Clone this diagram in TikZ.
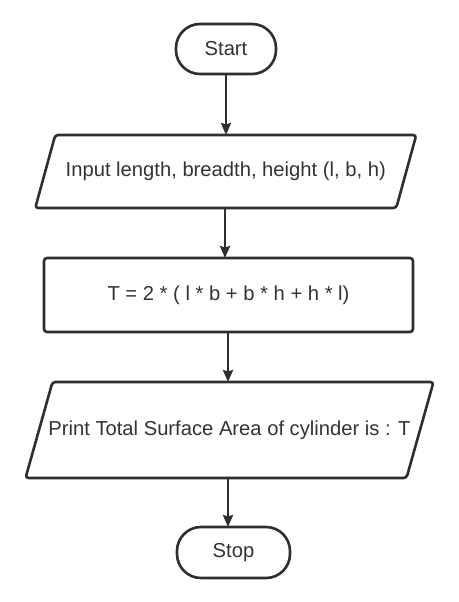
\documentclass[tikz,border=0pt]{standalone}
\usepackage{fontspec}
\setmainfont{Liberation Sans}
\usetikzlibrary{arrows.meta}
\definecolor{ink}{HTML}{2E2E2E}
\definecolor{txt}{HTML}{333333}
\begin{document}
\begin{tikzpicture}[x=1pt,y=-1pt,
  lbl/.style={text=txt,font=\fontsize{20.2}{24}\selectfont,inner sep=0pt,outer sep=0pt},
  term/.style={lbl,draw=ink,line width=2.6pt,rounded corners=24pt,minimum height=50pt},
  procbox/.style={lbl,draw=ink,line width=2.6pt,rounded corners=3pt},
  iobox/.style={lbl,rectangle},
  shp/.style={draw=ink,line width=2.6pt,rounded corners=3pt},
  arr/.style={draw=ink,line width=2.6pt,-{Stealth[length=12pt,width=10pt,inset=1.5pt]}}]
\useasboundingbox (0,0) rectangle (458,602);
\fill[white] (0,0) rectangle (458,602);
% terminals and boxes
\node[term,minimum width=100pt] (start) at (226,49) {Start};
\node[iobox,minimum width=361pt,minimum height=73pt] (inp) at (225.75,171.5) {Input length, breadth, height (l, b, h)};
\draw[shp] ([xshift=10pt]inp.north west) -- ([xshift=10pt]inp.north east) -- ([xshift=-10pt]inp.south east) -- ([xshift=-10pt]inp.south west) -- cycle;
\node[procbox,minimum width=369pt,minimum height=74pt] (calc) at (228.5,295) {T = 2 * ( l * b + b * h + h * l)};
\node[iobox,minimum width=381pt,minimum height=96pt] (out) at (229.5,430) {Print Total Surface Area of cylinder is : T};
\draw[shp] ([xshift=13.5pt]out.north west) -- ([xshift=13.5pt]out.north east) -- ([xshift=-13.5pt]out.south east) -- ([xshift=-13.5pt]out.south west) -- cycle;
\node[term,minimum width=113pt,minimum height=51pt] (stop) at (233.5,552.5) {Stop};
% connectors
\draw[arr] (start.south) -- (start.south |- inp.north);
\draw[arr] ([xshift=-0.75pt]inp.south) -- ([xshift=-0.75pt]inp.south |- calc.north);
\draw[arr] ([xshift=-0.5pt]calc.south) -- ([xshift=-0.5pt]calc.south |- out.north);
\draw[arr] ([xshift=-1.5pt]out.south) -- ([xshift=-1.5pt]out.south |- stop.north);
\end{tikzpicture}
\end{document}
